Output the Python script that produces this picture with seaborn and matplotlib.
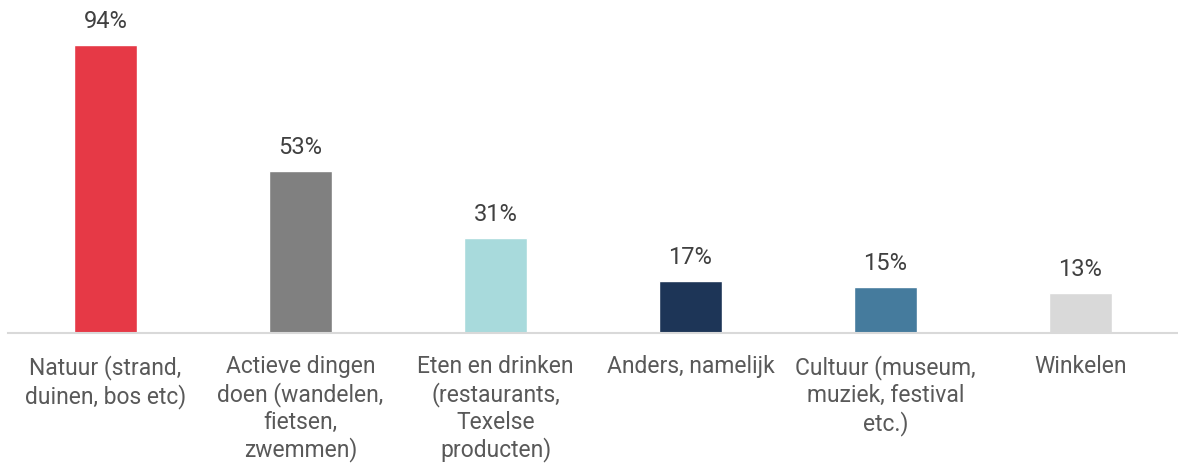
import matplotlib
matplotlib.use("Agg")
import matplotlib.pyplot as plt
import seaborn as sns
import pandas as pd

# Chart data
categories = [
    "Natuur (strand,\nduinen, bos etc)",
    "Actieve dingen\ndoen (wandelen,\nfietsen,\nzwemmen)",
    "Eten en drinken\n(restaurants,\nTexelse\nproducten)",
    "Anders, namelijk",
    "Cultuur (museum,\nmuziek, festival\netc.)",
    "Winkelen",
]
values = [94, 53, 31, 17, 15, 13]
colors = ["#E63946", "#808080", "#A8DADC", "#1D3557", "#457B9D", "#D9D9D9"]

df = pd.DataFrame({"category": categories, "value": values})

sns.set_style("white")
plt.rcParams["font.family"] = ["Roboto", "DejaVu Sans"]

fig = plt.figure(figsize=(11.78, 4.67), dpi=100)
ax = fig.add_axes([8 / 1178, 134 / 467, 1170 / 1178, 333 / 467])

sns.barplot(data=df, x="category", y="value", hue="category", palette=colors,
            width=0.32, legend=False, saturation=1, ax=ax)

ax.set_xlim(-0.5, 5.5)
ax.set_ylim(0, 108.7)

# value labels above bars
for i, v in enumerate(values):
    ax.annotate(f"{v}%", (i, v), xytext=(0, 8.5), textcoords="offset points",
                ha="center", va="bottom", fontsize=17, color="#404040")

ax.set_yticks([])
ax.set_xlabel("")
ax.set_ylabel("")
ax.tick_params(axis="x", length=0, pad=16)
ax.set_xticks(range(len(categories)))
ax.set_xticklabels(categories, fontsize=16.5, color="#595959", linespacing=1.2, va="top")

for s in ["top", "left", "right"]:
    ax.spines[s].set_visible(False)
ax.spines["bottom"].set_color("#D9D9D9")
ax.spines["bottom"].set_linewidth(1.5)

fig.savefig("out.png", dpi=100)
plt.close(fig)
